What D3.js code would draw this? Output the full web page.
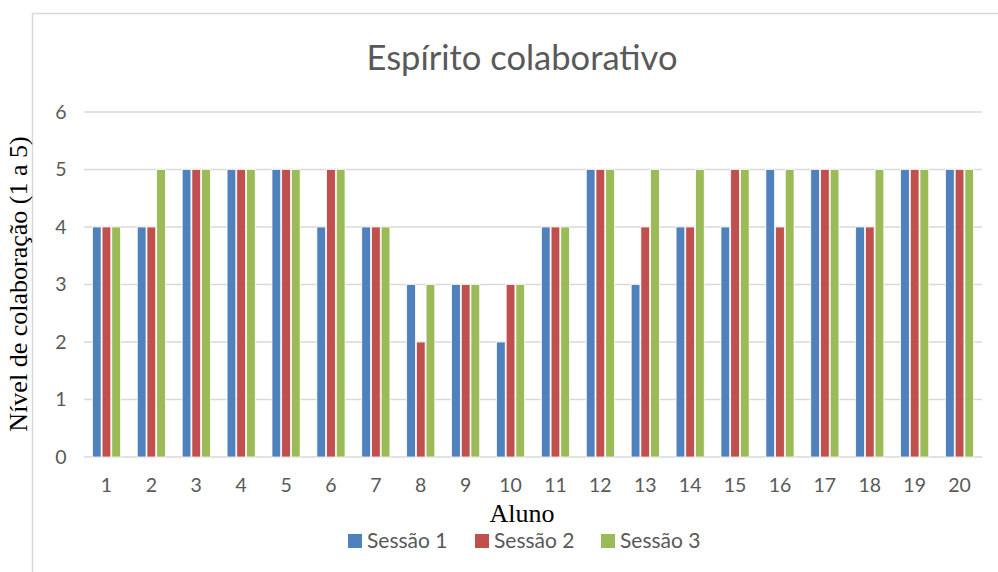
<!DOCTYPE html>
<html><head><meta charset="utf-8">
<script src="https://cdn.jsdelivr.net/npm/d3@7"></script>
<style>body{margin:0;background:#fff}svg{display:block}</style>
</head><body><svg id="c" width="998" height="572"></svg>
<script>
const categories = ["1","2","3","4","5","6","7","8","9","10","11","12","13","14","15","16","17","18","19","20"];
const seriesNames = ["Sessão 1","Sessão 2","Sessão 3"];
const sessao1 = [4,4,5,5,5,4,4,3,3,2,4,5,3,4,4,5,5,4,5,5];
const sessao2 = [4,4,5,5,5,5,4,2,3,3,4,5,4,4,5,4,5,4,5,5];
const sessao3 = [4,5,5,5,5,5,4,3,3,3,4,5,5,5,5,5,5,5,5,5];
const yTicks = [0,1,2,3,4,5,6];
const colors = ["#4F81BD","#C0504D","#9BBB59"];
const title = "Espírito colaborativo";
const yTitle = "Nível de colaboração (1 a 5)";
const xTitle = "Aluno";

const series = [sessao1, sessao2, sessao3];
const svg = d3.select("#c");
const sans = "Lato, 'Open Sans', sans-serif";
const serif = "'Liberation Serif', 'DejaVu Serif', serif";

// chart border
svg.append("rect").attr("x",32.5).attr("y",13.5).attr("width",1000).attr("height",600)
  .attr("fill","none").attr("stroke","#d9d9d9").attr("stroke-width",1.5);

const L=84, R=982, T=112, B=457;
const x = d3.scaleBand().domain(categories).range([L,R]).paddingInner(0.33).paddingOuter(0.165);
const xs = d3.scaleBand().domain(d3.range(3)).range([0,x.bandwidth()]).padding(0.1);
const y = d3.scaleLinear().domain([0,6]).range([B,T]);

// grid
svg.append("g").selectAll("line").data(yTicks).join("line")
  .attr("x1",L).attr("x2",R).attr("y1",d=>y(d)).attr("y2",d=>y(d))
  .attr("stroke","#d9d9d9").attr("stroke-width",1.5);

// y labels
const ya = svg.append("g").attr("transform",`translate(${L-23},0)`)
  .call(d3.axisLeft(y).tickValues(yTicks).tickSize(0).tickPadding(0).tickFormat(d3.format("d")));
ya.select(".domain").remove();
ya.selectAll("text").attr("font-family",sans).attr("font-size",19.5).attr("fill","#595959")
  .attr("text-anchor","middle");

// x labels
const xa = svg.append("g").attr("transform",`translate(0,${B+16})`)
  .call(d3.axisBottom(x).tickSize(0).tickPadding(5));
xa.select(".domain").remove();
xa.selectAll("text").attr("font-family",sans).attr("font-size",19.5).attr("fill","#595959");

// bars
series.forEach((s,i)=>{
  svg.append("g").selectAll("rect").data(s).join("rect")
    .attr("x",(d,j)=>x(categories[j])+xs(i))
    .attr("width",xs.bandwidth())
    .attr("y",d=>y(d)).attr("height",d=>y(0)-y(d))
    .attr("fill",colors[i]).attr("stroke","#fff").attr("stroke-width",0.75);
});

// title
svg.append("text").attr("x",522).attr("y",70).attr("text-anchor","middle")
  .attr("font-family",sans).attr("font-size",34.5).attr("fill","#595959").text(title);

// axis titles
svg.append("text").attr("x",522).attr("y",522).attr("text-anchor","middle")
  .attr("font-family",serif).attr("font-size",26).attr("fill","#000").text(xTitle);
svg.append("text").attr("transform","translate(27,284) rotate(-90)").attr("text-anchor","middle")
  .attr("font-family",serif).attr("font-size",26).attr("fill","#000").text(yTitle);

// legend
const lg = svg.append("g");
const lx = [348, 475, 601];
seriesNames.forEach((n,i)=>{
  lg.append("rect").attr("x",lx[i]).attr("y",534).attr("width",14).attr("height",14).attr("fill",colors[i]);
  lg.append("text").attr("x",lx[i]+19).attr("y",548).attr("font-family",sans).attr("font-size",21)
    .attr("fill","#595959").text(n);
});
</script></body></html>
